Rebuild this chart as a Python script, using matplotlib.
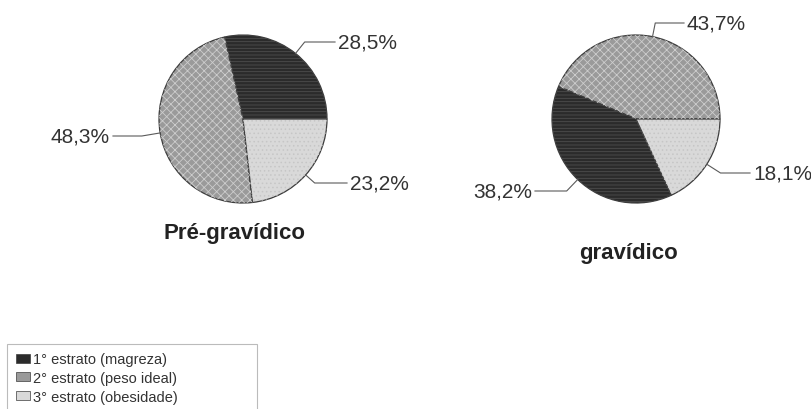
import math

from matplotlib import pyplot as plt
from matplotlib.patches import Patch

plt.rcParams['font.family'] = ['Liberation Sans', 'DejaVu Sans']
plt.rcParams['hatch.linewidth'] = 0.6

# weight classes and their share (%) before and during pregnancy
categories = ['1° estrato (magreza)', '2° estrato (peso ideal)', '3° estrato (obesidade)']
pre_gravidico = [28.5, 48.3, 23.2]
gravidico = [38.2, 43.7, 18.1]
titles = ['Pré-gravídico', 'gravídico']

face_colors = ['#2b2b2b', '#9a9a9a', '#d9d9d9']
hatch_colors = ['#4e4e4e', '#cdcdcd', '#c6c6c6']
hatches = ['-----', 'xxxx', '....']

W, H = 812, 410
fig = plt.figure(figsize=(W / 100, H / 100), dpi=100)
ax = fig.add_axes([0, 0, 1, 1])


def draw_pie(values, order, cx, cy, r, label_pos, title, title_xy):
    vals = [values[i] for i in order]
    cols = [face_colors[i] for i in order]
    wedges, _ = ax.pie(vals, colors=cols, startangle=0, counterclock=True,
                       center=(cx, H - cy), radius=r,
                       wedgeprops=dict(edgecolor='#3c3c3c', linewidth=0.9))
    # second pass only for the halftone-like hatching
    over, _ = ax.pie(vals, colors=['none'] * 3, startangle=0, counterclock=True,
                     center=(cx, H - cy), radius=r,
                     wedgeprops=dict(linewidth=0))
    for w, i in zip(over, order):
        w.set_edgecolor(hatch_colors[i])
        w.set_hatch(hatches[i])
    for w, i in zip(wedges, order):
        mid = (w.theta1 + w.theta2) / 2
        ex = cx + r * math.cos(math.radians(mid))
        ey = H - cy + r * math.sin(math.radians(mid))
        tx, ty, ha = label_pos[i]
        txt = f'{values[i]:.1f}%'.replace('.', ',')
        ax.annotate(txt, xy=(ex, ey), xytext=(tx, H - ty), ha=ha, va='center',
                    fontsize=15, color='#333333',
                    arrowprops=dict(arrowstyle='-', color='#5a5a5a', lw=0.8,
                                    shrinkA=0, shrinkB=0,
                                    connectionstyle=f'angle,angleA=0,angleB={mid},rad=0'))
    ax.text(title_xy[0], H - title_xy[1], title, ha='center', va='baseline',
            fontsize=16, fontweight='bold', color='#222222')


draw_pie(pre_gravidico, [0, 1, 2], 243, 120, 84,
         {0: (338, 43, 'left'), 1: (110, 137, 'right'), 2: (350, 184, 'left')},
         titles[0], (235, 239))
draw_pie(gravidico, [1, 0, 2], 636, 120, 84,
         {0: (532, 192, 'right'), 1: (687, 24, 'left'), 2: (753, 174, 'left')},
         titles[1], (629, 259))

ax.set_xlim(0, W)
ax.set_ylim(0, H)
ax.set_aspect('auto')
ax.axis('off')

handles = []
for fc, hc, h in zip(face_colors, hatch_colors, hatches):
    handles.append(Patch(facecolor=fc, edgecolor='#3c3c3c', linewidth=0.5))
leg = fig.legend(handles, categories, loc='upper left', mode='expand',
                 bbox_to_anchor=(7 / W, 1 - 345 / H, 250 / W, 0.001),
                 fontsize=10.5, handlelength=1.0, handleheight=0.6,
                 handletextpad=0.2, labelspacing=0.32, borderpad=0.6,
                 borderaxespad=0, fancybox=False, frameon=True)
leg.get_frame().set_edgecolor('#aaaaaa')
leg.get_frame().set_linewidth(0.8)
for t in leg.get_texts():
    t.set_color('#333333')

fig.savefig('out.png', dpi=100, facecolor='white')
